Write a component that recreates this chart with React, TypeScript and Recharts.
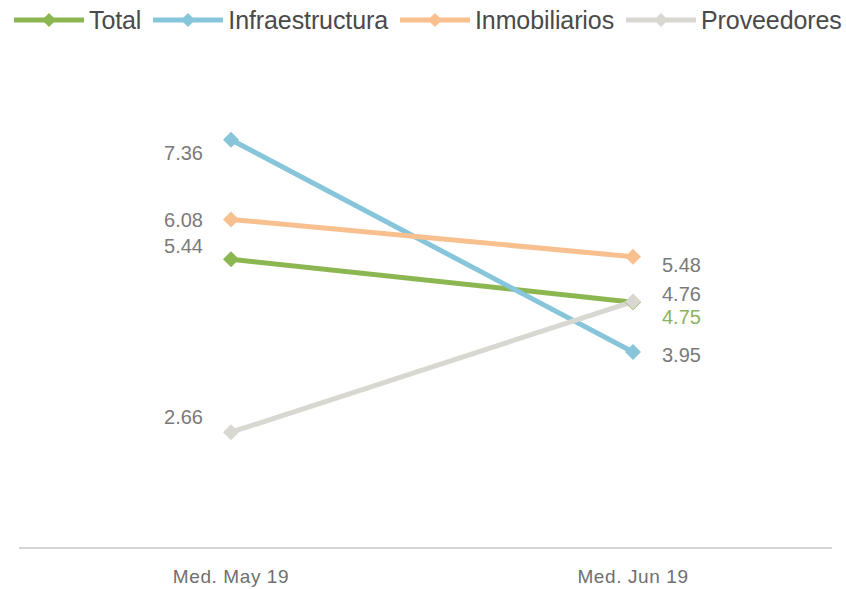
import { LineChart, Line, XAxis, YAxis, Legend, LabelList } from "recharts";

const categories = ["Med. May 19", "Med. Jun 19"];
const total = [5.44, 4.75];
const infraestructura = [7.36, 3.95];
const inmobiliarios = [6.08, 5.48];
const proveedores = [2.66, 4.76];

const data = categories.map((name, i) => ({
  name,
  total: total[i],
  infraestructura: infraestructura[i],
  inmobiliarios: inmobiliarios[i],
  proveedores: proveedores[i],
}));

const FONT = '"Liberation Sans", Arial, sans-serif';
const LABEL_GREY = "#7a7a7a";

type SeriesDef = {
  key: string;
  name: string;
  color: string;
  labelColor: [string, string];
  // vertical nudge of the value label at each end, so stacked labels don't collide
  labelDy: [number, number];
};

const series: SeriesDef[] = [
  { key: "total", name: "Total", color: "#8cb650", labelColor: [LABEL_GREY, "#8cb35e"], labelDy: [-13, 15] },
  { key: "infraestructura", name: "Infraestructura", color: "#86c5da", labelColor: [LABEL_GREY, LABEL_GREY], labelDy: [13, 3] },
  { key: "inmobiliarios", name: "Inmobiliarios", color: "#f9c08f", labelColor: [LABEL_GREY, LABEL_GREY], labelDy: [1, 8] },
  { key: "proveedores", name: "Proveedores", color: "#d9d7d2", labelColor: [LABEL_GREY, LABEL_GREY], labelDy: [-15, -8] },
];

function diamond(color: string) {
  return (props: any) => {
    const { cx, cy, index } = props;
    if (cx == null || cy == null) return <g key={index} />;
    const r = 8;
    return (
      <path
        key={index}
        d={`M${cx},${cy - r}L${cx + r},${cy}L${cx},${cy + r}L${cx - r},${cy}Z`}
        fill={color}
      />
    );
  };
}

function valueLabel(s: SeriesDef) {
  return (props: any) => {
    const { x, y, value, index } = props;
    const left = index === 0;
    return (
      <text
        x={left ? x - 28 : x + 29}
        y={y + s.labelDy[index]}
        dy="0.35em"
        textAnchor={left ? "end" : "start"}
        fontFamily={FONT}
        fontSize={20}
        fill={s.labelColor[index]}
      >
        {Number(value).toFixed(2)}
      </text>
    );
  };
}

function LegendBox() {
  return (
    <div
      style={{
        display: "flex",
        alignItems: "center",
        height: 40,
        width: 846,
        paddingLeft: 14,
        boxSizing: "border-box",
        fontFamily: FONT,
        whiteSpace: "nowrap",
      }}
    >
      {series.map((s) => (
        <div key={s.key} style={{ display: "flex", alignItems: "center", marginRight: 12, flexShrink: 0 }}>
          <svg width={70} height={20} style={{ marginRight: 5, flexShrink: 0 }}>
            <line x1={0} y1={10} x2={70} y2={10} stroke={s.color} strokeWidth={5} />
            <path d="M35,3L42,10L35,17L28,10Z" fill={s.color} />
          </svg>
          <span style={{ fontSize: 25, color: "#4a4a4a", letterSpacing: -0.1 }}>{s.name}</span>
        </div>
      ))}
    </div>
  );
}

function CategoryTick(props: any) {
  const { x, y, payload } = props;
  return (
    <text x={x} y={y + 27} textAnchor="middle" fontFamily={FONT} fontSize={19} letterSpacing={0.6} fill="#6f6f6f">
      {payload.value}
    </text>
  );
}

export default function App() {
  return (
    <div style={{ position: "absolute", left: 0, top: 0, width: 846, height: 589, background: "#fff" }}>
      <LineChart width={846} height={589} data={data} margin={{ top: 35, right: 14, bottom: 0, left: 19 }}>
        <XAxis
          dataKey="name"
          axisLine={{ stroke: "#d5d5d5", strokeWidth: 2 }}
          tickLine={false}
          tick={<CategoryTick />}
          height={41}
          padding={{ left: 212, right: 199 }}
          interval={0}
        />
        <YAxis hide domain={[0.8, 8.4]} />
        <Legend
          verticalAlign="top"
          align="left"
          content={<LegendBox />}
          wrapperStyle={{ top: 0, left: 0, width: 846 }}
        />
        {series.map((s) => (
          <Line
            key={s.key}
            dataKey={s.key}
            name={s.name}
            stroke={s.color}
            strokeWidth={5}
            dot={diamond(s.color)}
            activeDot={false}
            isAnimationActive={false}
          >
            <LabelList dataKey={s.key} content={valueLabel(s)} />
          </Line>
        ))}
      </LineChart>
    </div>
  );
}
